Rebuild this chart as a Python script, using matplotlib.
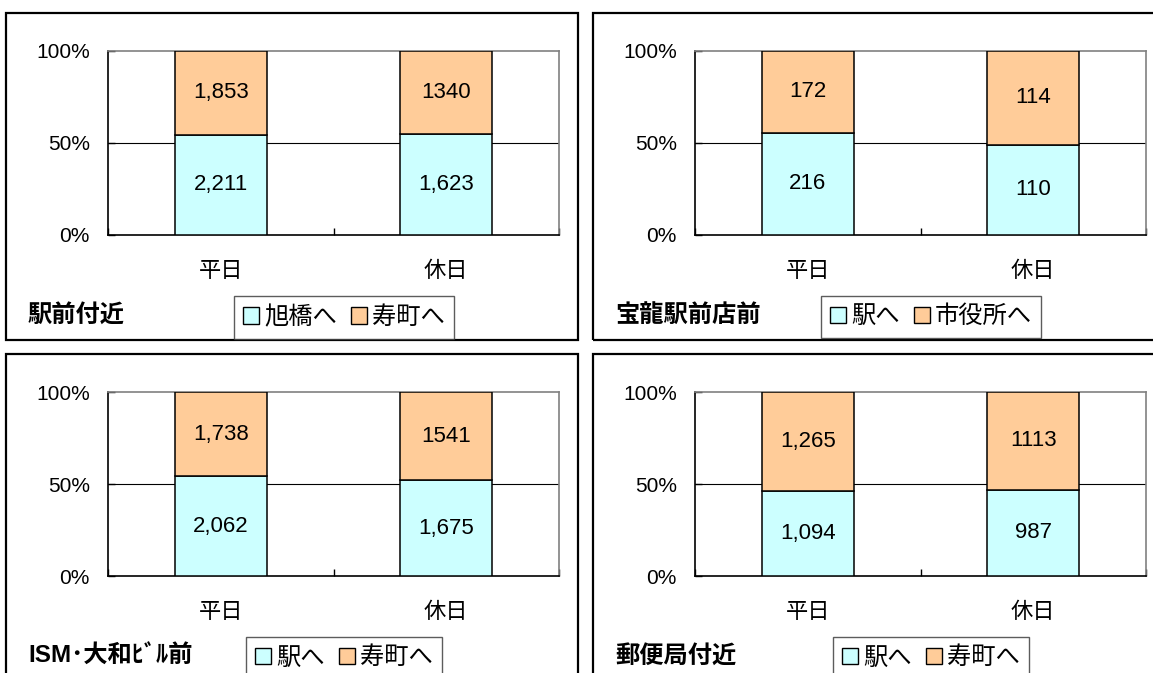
import matplotlib
matplotlib.use('Agg')
import matplotlib.pyplot as plt
from matplotlib.patches import Rectangle, Patch

plt.rcParams['font.family'] = ['Liberation Sans', 'Noto Sans CJK JP', 'DejaVu Sans']

# ── DATA ─────────────────────────────────────────────
categories = ["平日", "休日"]
titles = ["駅前付近", "宝龍駅前店前", "ISM･大和ﾋﾞﾙ前", "郵便局付近"]
series_names = [
    ["旭橋へ", "寿町へ"],
    ["駅へ", "市役所へ"],
    ["駅へ", "寿町へ"],
    ["駅へ", "寿町へ"],
]
# counts per panel: [lower series per category], [upper series per category]
lower_vals = [
    [2211, 1623],
    [216, 110],
    [2062, 1675],
    [1094, 987],
]
upper_vals = [
    [1853, 1340],
    [172, 114],
    [1738, 1541],
    [1265, 1113],
]
# labels printed without thousands separator (panel, category)
plain_upper = {(0, 1), (2, 1), (3, 1)}

COLOR_LOWER = "#CCFFFF"
COLOR_UPPER = "#FFCC99"

W, H = 1153, 673
fig = plt.figure(figsize=(W / 100, H / 100), dpi=100, facecolor='white')


def fx(px):
    return px / W


def fy(py):
    return 1 - py / H


offsets = [(0, 0), (587, 0), (0, 341), (587, 341)]

for p, (dx, dy) in enumerate(offsets):
    # outer frame
    fig.add_artist(Rectangle((fx(6 + dx), fy(340 + dy)), fx(572), 327 / H,
                             transform=fig.transFigure, fill=False,
                             edgecolor='black', linewidth=1.6, zorder=0))

    ax = fig.add_axes([fx(108 + dx), fy(235 + dy), fx(451), 184 / H])
    lo = lower_vals[p]
    up = upper_vals[p]
    tot = [a + b for a, b in zip(lo, up)]
    lo_s = [a / t for a, t in zip(lo, tot)]
    up_s = [b / t for b, t in zip(up, tot)]
    xpos = [0.5, 1.5]

    ax.bar(xpos, lo_s, width=0.41, color=COLOR_LOWER, edgecolor='black',
           linewidth=1.1, zorder=3)
    ax.bar(xpos, up_s, width=0.41, bottom=lo_s, color=COLOR_UPPER,
           edgecolor='black', linewidth=1.1, zorder=3)

    for i, x in enumerate(xpos):
        ax.text(x, lo_s[i] / 2, f"{lo[i]:,}", ha='center', va='center',
                fontsize=16, zorder=4)
        lab = str(up[i]) if (p, i) in plain_upper else f"{up[i]:,}"
        ax.text(x, lo_s[i] + up_s[i] / 2, lab, ha='center', va='center',
                fontsize=16, zorder=4)

    ax.set_xlim(0, 2)
    ax.set_ylim(0, 1)
    ax.axhline(0.5, color='black', linewidth=0.8, zorder=1)

    ax.set_yticks([0, 0.5, 1])
    ax.set_yticklabels(["0%", "50%", "100%"])
    ax.tick_params(axis='y', direction='in', length=5, width=1, pad=13,
                   labelsize=15)
    ax.set_xticks(xpos)
    ax.set_xticklabels(categories)
    ax.tick_params(axis='x', length=0, pad=19, labelsize=16)
    ax.set_xticks([0, 1, 2], minor=True)
    ax.tick_params(axis='x', which='minor', direction='in', length=5, width=1)

    for side in ['top', 'right']:
        ax.spines[side].set_color('#808080')
        ax.spines[side].set_linewidth(1.2)
    for side in ['left', 'bottom']:
        ax.spines[side].set_color('black')
        ax.spines[side].set_linewidth(1.2)

    fig.text(fx(28 + dx), fy(315 + dy), titles[p], fontsize=17.5,
             fontweight='bold', ha='left', va='center')

    handles = [Patch(facecolor=COLOR_LOWER, edgecolor='black', linewidth=1),
               Patch(facecolor=COLOR_UPPER, edgecolor='black', linewidth=1)]
    leg = fig.legend(handles, series_names[p], loc='upper center',
                     bbox_to_anchor=(fx(344 + dx), fy(296 + dy)),
                     ncol=2, fontsize=17.5, frameon=True, fancybox=False,
                     handlelength=0.65, handleheight=0.65, handletextpad=0.2,
                     columnspacing=0.6, borderpad=0.4, borderaxespad=0)
    leg.get_frame().set_edgecolor('#333333')
    leg.get_frame().set_linewidth(1.0)

plt.savefig("out.png", dpi=100, facecolor='white')
plt.close()
